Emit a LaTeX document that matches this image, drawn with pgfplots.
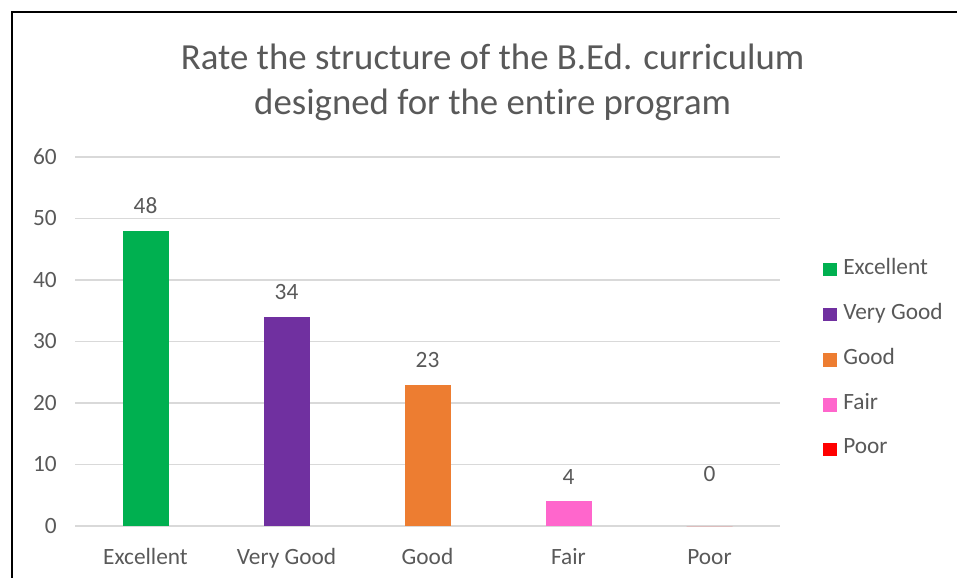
\documentclass[border=0pt]{standalone}
\usepackage{fontspec}
\setmainfont{Carlito}[Ligatures=NoCommon]
\usepackage{pgfplots}
\pgfplotsset{compat=1.18}
\definecolor{txt}{HTML}{595959}
\definecolor{grd}{HTML}{D9D9D9}
\definecolor{cEx}{HTML}{00B050}
\definecolor{cVG}{HTML}{7030A0}
\definecolor{cGo}{HTML}{ED7D31}
\definecolor{cFa}{HTML}{FF66CC}
\definecolor{cPo}{HTML}{FF0000}
\begin{document}
\begin{tikzpicture}
\useasboundingbox (0,0) rectangle (717.75pt,433.5pt);
\draw[black, line width=1pt] (9pt,0pt) -- (9pt,424.5pt) -- (717.75pt,424.5pt);
\node[text=txt, align=center, font=\fontsize{27.6}{33.75}\selectfont] at (369.5pt,372pt)
  {Rate the structure of the B.Ed. curriculum\\designed for the entire program};
\begin{axis}[
  at={(56.25pt,39pt)}, anchor=south west,
  scale only axis, width=528.75pt, height=276.75pt,
  ybar, bar width=34.5pt, bar shift=0pt,
  xmin=-0.5, xmax=4.5, ymin=0, ymax=60,
  xtick={0,1,2,3,4},
  xticklabels={Excellent,Very Good,Good,Fair,Poor},
  ytick={0,10,20,30,40,50,60},
  axis line style={draw=none},
  axis x line*=bottom,
  x axis line style={draw=grd, line width=1pt},
  ymajorgrids, grid style={grd, line width=0.8pt},
  major tick length=0pt,
  tick label style={text=txt, font=\fontsize{17.5}{20}\selectfont},
  /pgf/number format/assume math mode=true,
  yticklabel style={anchor=east, inner sep=0pt, xshift=-13.5pt},
  xticklabel style={anchor=base, inner sep=0pt, yshift=-29pt},
  nodes near coords,
  nodes near coords style={text=txt, font=\fontsize{17.5}{20}\selectfont, anchor=base, inner sep=0pt, yshift=12.75pt},
  legend style={draw=none, fill=none, inner sep=0pt, anchor=west, at={(1.061,0.458)},
    font=\fontsize{17.5}{20}\selectfont, text=txt, row sep=20pt,
    nodes={inner sep=0pt},
    /tikz/every odd column/.append style={column sep=4.5pt}},
  legend cell align=left,
  legend image code/.code={\fill[#1] (0pt,-7pt) rectangle (10.5pt,3pt);},
]
\addplot[fill=cEx, draw=none] coordinates {(0,48)};
\addlegendentry{Excellent}
\addplot[fill=cVG, draw=none] coordinates {(1,34)};
\addlegendentry{Very Good}
\addplot[fill=cGo, draw=none] coordinates {(2,23)};
\addlegendentry{Good}
\addplot[fill=cFa, draw=none] coordinates {(3,4)};
\addlegendentry{Fair}
\addplot[fill=cPo, draw=none, nodes near coords style={yshift=21pt}] coordinates {(4,0)};
\addlegendentry{Poor}
\end{axis}
\end{tikzpicture}
\end{document}
